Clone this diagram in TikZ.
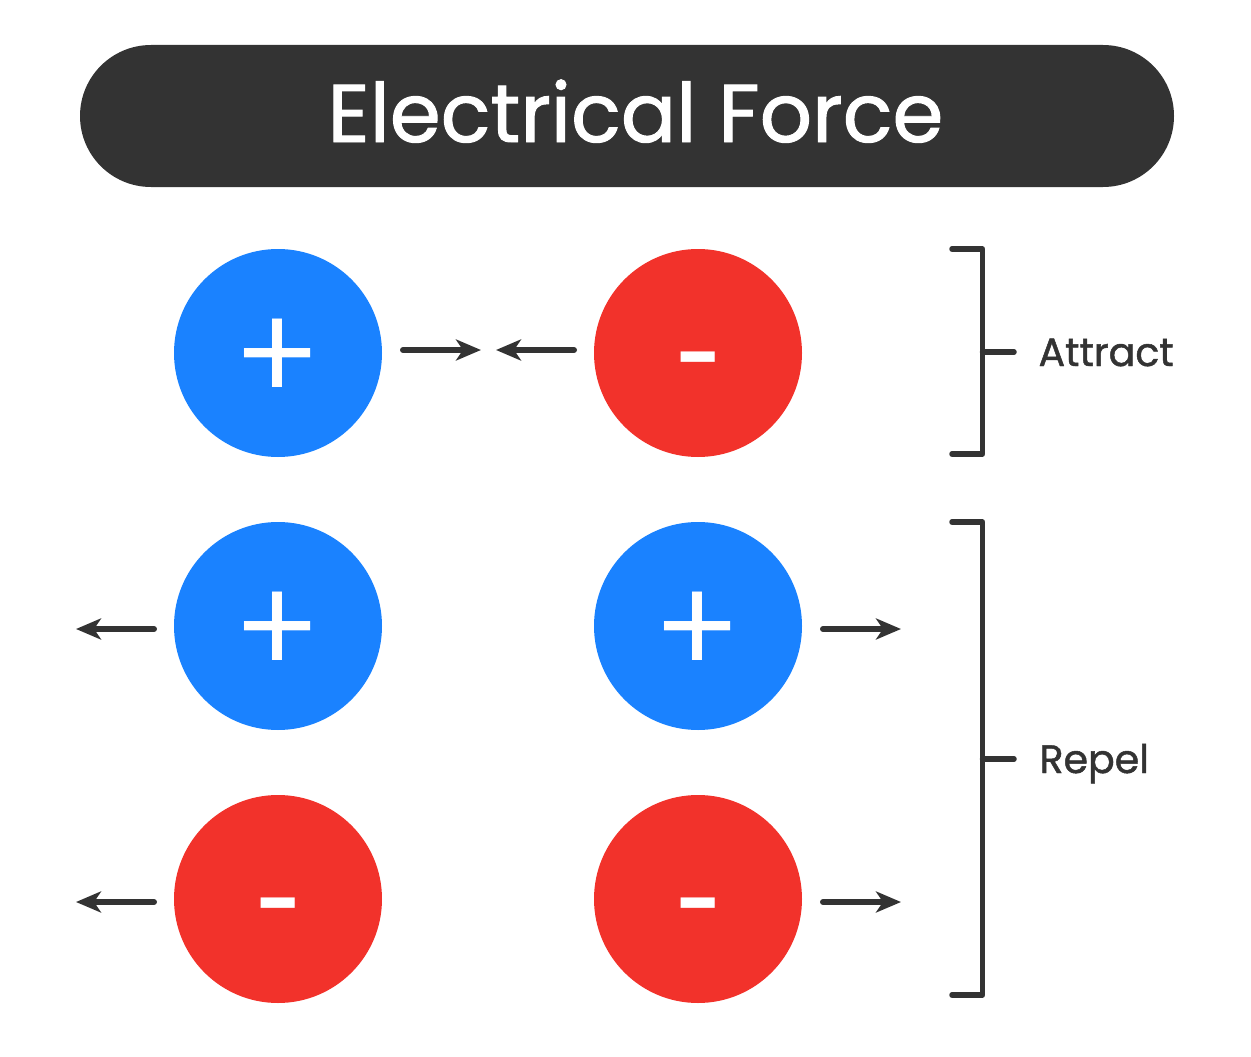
\documentclass[tikz,border=0pt]{standalone}
\usepackage{fontspec}
\setmainfont[FakeBold=1.2]{Poppins}
\newfontfamily\signfont{Lato}
\usetikzlibrary{arrows.meta}
\definecolor{darkgrey}{HTML}{333333}
\definecolor{plusblue}{HTML}{1A82FF}
\definecolor{minusred}{HTML}{F2322B}
\tikzset{
	charge/.style={circle, minimum size=208pt, inner sep=0pt, text=white, text depth=0pt, font=\signfont\fontsize{138}{138}\selectfont},
	plus/.style={charge, fill=plusblue, text height=92.6pt},
	minus/.style={charge, fill=minusred, text height=90pt},
	force/.style={draw=darkgrey, line width=6pt, line cap=round, -{Stealth[length=25pt, width=21pt, inset=7pt]}},
	bracket/.style={draw=darkgrey, line width=5.5pt, line cap=round, line join=round},
	effect/.style={text=darkgrey, anchor=west, text height=28pt, text depth=0pt, font=\fontsize{39.5}{40}\selectfont}
}

\begin{document}
\begin{tikzpicture}[x=1pt, y=-1pt]
	\useasboundingbox (0, 0) rectangle (1251, 1057);

	\node[fill=darkgrey, rounded corners=71pt, minimum width=1094pt, minimum height=142pt, inner sep=0pt, text=white, text height=60pt, text depth=8pt, font=\fontsize{82}{82}\selectfont] (title) at (627, 116) {\hspace*{17pt}Electrical Force};

	\node[plus] (A) at (278, 353) {+};
	\node[minus] (B) at (698, 353) {-};
	\node[plus] (C) at (278, 626) {+};
	\node[plus] (D) at (698, 626) {+};
	\node[minus] (E) at (278, 899) {-};
	\node[minus] (F) at (698, 899) {-};

	\coordinate (A1) at (403, 350);
	\coordinate (A2) at (481, 350);
	\coordinate (B1) at (574, 350);
	\coordinate (B2) at (496, 350);
	\coordinate (C1) at (154, 629);
	\coordinate (C2) at (76, 629);
	\coordinate (D1) at (823, 629);
	\coordinate (D2) at (901, 629);
	\coordinate (E1) at (154, 902);
	\coordinate (E2) at (76, 902);
	\coordinate (F1) at (823, 902);
	\coordinate (F2) at (901, 902);

	\draw[force] (A1) -- (A2);
	\draw[force] (B1) -- (B2);
	\draw[force] (C1) -- (C2);
	\draw[force] (D1) -- (D2);
	\draw[force] (E1) -- (E2);
	\draw[force] (F1) -- (F2);

	\node[effect] (attract) at (1035, 352) {Attract};
	\node[effect] (repel) at (1036, 759) {Repel};

	\coordinate (G1) at (952, 249);
	\coordinate (G2) at (982.5, 249);
	\coordinate (G3) at (982.5, 454);
	\coordinate (G4) at (952, 454);
	\coordinate (G5) at (982.5, 352);
	\coordinate (G6) at (1014, 352);
	\coordinate (H1) at (952, 522);
	\coordinate (H2) at (982.5, 522);
	\coordinate (H3) at (982.5, 995);
	\coordinate (H4) at (952, 995);
	\coordinate (H5) at (982.5, 759);
	\coordinate (H6) at (1014, 759);

	\draw[bracket] (G1) -- (G2) -- (G3) -- (G4);
	\draw[bracket] (G5) -- (G6);
	\draw[bracket] (H1) -- (H2) -- (H3) -- (H4);
	\draw[bracket] (H5) -- (H6);
\end{tikzpicture}
\end{document}
